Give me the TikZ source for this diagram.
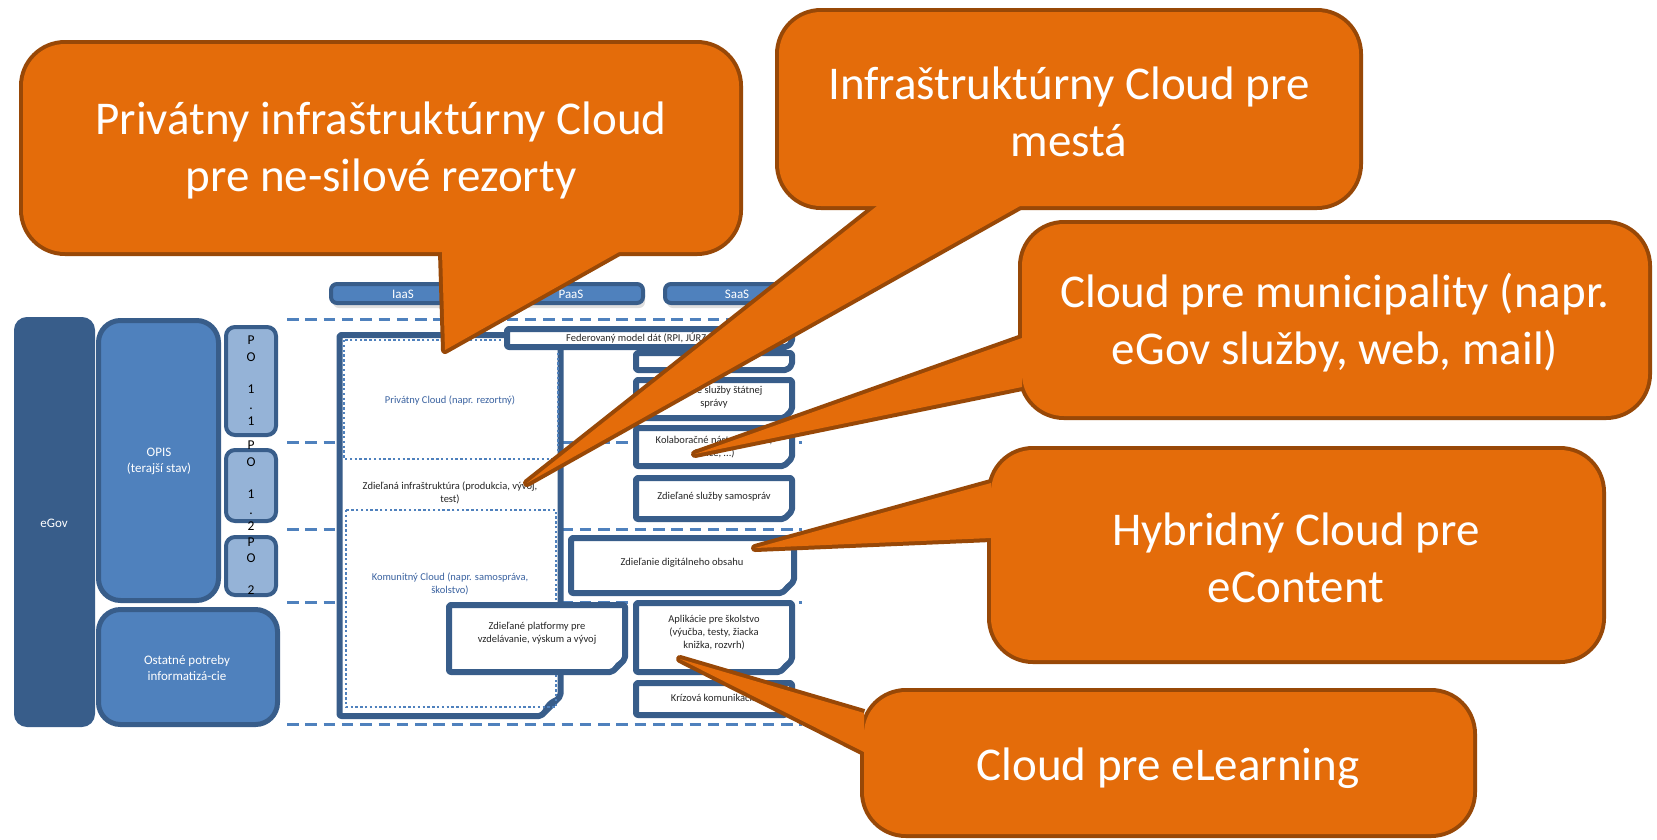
\documentclass[tikz,border=0pt]{standalone}
\usepackage{fontspec}
\setmainfont{Carlito}
\usetikzlibrary{shadows}
\definecolor{dkblue}{HTML}{385D8A}
\definecolor{mdblue}{HTML}{4F81BD}
\definecolor{ltblue}{HTML}{95B3D7}
\definecolor{corange}{HTML}{E46C0A}
\definecolor{cbrown}{HTML}{984807}
\definecolor{txtblue}{HTML}{3A62A0}
\tikzset{
  dline/.style={mdblue, line width=3pt, dash pattern=on 11.5pt off 6.8pt},
  dotbox/.style={mdblue, line width=2.5pt, dash pattern=on 2.4pt off 2.4pt},
  egovbox/.style={fill=dkblue, draw=dkblue, line width=2pt, rounded corners=12pt},
  opisbox/.style={fill=mdblue, draw=dkblue, line width=5pt, rounded corners=22pt},
  pobox/.style={fill=ltblue, draw=dkblue, line width=4pt, rounded corners=9pt},
  tabbox/.style={fill=mdblue, draw=dkblue, line width=4pt, rounded corners=6pt,
    drop shadow={shadow xshift=2pt, shadow yshift=-5pt, opacity=0.25}},
  nbox/.style={fill=white, draw=dkblue, line width=6pt, rounded corners=2pt, line join=round},
  wtxt/.style={text=white, font=\fontsize{13}{16}\selectfont, align=center, inner sep=0pt},
  potxt/.style={text=black, font=\fontsize{13.5}{16.2}\selectfont, align=center, inner sep=0pt},
  btxt/.style={text=black!85, font=\fontsize{10.5}{13}\selectfont, align=center, inner sep=0pt},
  ctxt/.style={text=txtblue, font=\fontsize{10.5}{13}\selectfont, align=center, inner sep=0pt},
  cobord/.style={draw=cbrown, line width=8pt, line join=round},
  cotxt/.style={text=white, font=\fontsize{47}{57}\selectfont, align=center, inner sep=0pt},
}
\newcommand{\notebox}[5]{%
  \draw[nbox] (#1+3,#2+3) -- (#3-3,#2+3) -- (#3-3,#4-3-#5) -- (#3-3-#5,#4-3) -- (#1+3,#4-3) -- cycle;
  \fill[dkblue] (#3-3,#4-3-#5) -- (#3-3-#5,#4-3) .. controls (#3-3-0.9*#5,#4-3-0.6*#5) and (#3-3-0.6*#5,#4-3-0.9*#5) .. (#3-3,#4-3-#5) -- cycle;
}
\begin{document}
\begin{tikzpicture}[x=1pt,y=-1pt]
\useasboundingbox (0,0) rectangle (1657,839);
\fill[white] (0,0) rectangle (1657,839);

% dashed row separators
\foreach \yy in {319,442,529,602,724} \draw[dline] (287,\yy) -- (802,\yy);

% left column
\draw[egovbox] (15,318) rectangle (94,726);
\node[wtxt] (egov) at (54,523) {eGov};
\draw[opisbox] (98.5,320.5) rectangle (218.5,600.5);
\node[wtxt] (opis) at (159,461) {OPIS\\(terajší stav)};
\draw[pobox] (226,327) rectangle (276,435);
\draw[pobox] (226,450) rectangle (276,521);
\draw[pobox] (226,537) rectangle (276,595);
\node[potxt] (po11) at (251,381) {P\\O\\[16.2pt]1\\.\\1};
\node[potxt] (po12) at (251,486) {P\\O\\[16.2pt]1\\.\\2};
\node[potxt] (po2) at (251,566) {P\\O\\[16.2pt]2};
\draw[opisbox] (98.5,609.5) rectangle (277.5,724.5);
\node[wtxt] (ost) at (187,668) {Ostatné potreby\\informatizá-cie};

% header tabs
\draw[tabbox] (331,284) rectangle (475,303);
\node[wtxt] (iaas) at (403,294) {IaaS};
\draw[tabbox] (499,284) rectangle (643,303);
\node[wtxt] (paas) at (571,294) {PaaS};
\draw[tabbox] (665,284) rectangle (809,303);
\node[wtxt] (saas) at (737,294) {SaaS};

% IaaS frame with folded corner
\draw[nbox] (339.5,335) -- (560.5,335) -- (560.5,696) -- (541,716) -- (339.5,716) -- cycle;
\fill[dkblue] (560.5,696) -- (541,716) .. controls (543,705) and (549,698) .. (560.5,696) -- cycle;
\draw[dotbox] (344,340) rectangle (558,459);
\draw[dotbox] (346,510) rectangle (556,707);
\node[ctxt] (priv) at (450,400) {Privátny Cloud (napr. rezortný)};
\node[btxt] (zinf) at (450,493) {Zdieľaná infraštruktúra (produkcia, vývoj,\\test)};
\node[ctxt] (komu) at (450,584) {Komunitný Cloud (napr. samospráva,\\školstvo)};

% service boxes
\notebox{633}{350}{795}{373}{5}
\notebox{504}{326}{795}{350}{5}
\notebox{633}{377}{795}{421}{8}
\notebox{633}{425}{795}{469}{8}
\notebox{633}{475}{795}{522}{8}
\notebox{568}{535}{797}{596}{12}
\notebox{446}{602}{628}{675}{13}
\notebox{633}{600}{795}{675}{12}
\notebox{633}{680}{795}{718}{6}
\node[btxt, anchor=west] (fed) at (566,338) {Federovaný model dát (RPI, JÚRZ};
\node[btxt] (szs) at (714,397) {Zdieľané služby štátnej\\správy};
\node[btxt] (kol) at (714,447) {Kolaboračné nástroje (mail,\\Office, ...)};
\node[btxt] (zss) at (714,497) {Zdieľané služby samospráv};
\node[btxt] (zdo) at (682,563) {Zdieľanie digitálneho obsahu};
\node[btxt] (zpv) at (537,633) {Zdieľané platformy pre\\vzdelávanie, výskum a vývoj};
\node[btxt] (apl) at (714,633) {Aplikácie pre školstvo\\(výučba, testy, žiacka\\knižka, rozvrh)};
\node[btxt] (kriz) at (714,698) {Krízová komunikácia};

% callout 1
\draw[cobord] (442,252) -- (445,350) -- (619,252);
\draw[cobord, rounded corners=42pt] (23,44) rectangle (739,252);
\fill[corange, rounded corners=42pt] (23,44) rectangle (739,252);
\fill[corange] (442,252) -- (445,350) -- (619,252) -- cycle;
\node[cotxt] (c1) at (381,150) {Privátny infraštruktúrny Cloud\\pre ne-silové rezorty};

% callout 2
\draw[cobord] (877,206) -- (527,483) -- (1020,206);
\draw[cobord, rounded corners=42pt] (779,12) rectangle (1359,206);
\fill[corange, rounded corners=42pt] (779,12) rectangle (1359,206);
\fill[corange] (877,206) -- (527,483) -- (1020,206) -- cycle;
\node[cotxt] (c2) at (1069,112) {Infraštruktúrny Cloud pre\\mestá};

% callout 3
\draw[cobord] (1022,338) -- (695,454) -- (1022,387);
\draw[cobord, rounded corners=42pt] (1022,224) rectangle (1648,416);
\fill[corange, rounded corners=42pt] (1022,224) rectangle (1648,416);
\fill[corange] (1022,338) -- (695,454) -- (1022,387) -- cycle;
\node[cotxt] (c3) at (1335,323) {Cloud pre municipality (napr.\\eGov služby, web, mail)};

% callout 4
\draw[cobord] (991,483) -- (755,548) -- (991,538);
\draw[cobord, rounded corners=42pt] (991,450) rectangle (1602,660);
\fill[corange, rounded corners=42pt] (991,450) rectangle (1602,660);
\fill[corange] (991,483) -- (755,548) -- (991,538) -- cycle;
\node[cotxt] (c4) at (1296,558) {Hybridný Cloud pre\\eContent};

% callout 5
\draw[cobord] (864,713) -- (680,659) -- (864,752);
\draw[cobord, rounded corners=42pt] (864,692) rectangle (1473,834);
\fill[corange, rounded corners=42pt] (864,692) rectangle (1473,834);
\fill[corange] (864,713) -- (680,659) -- (864,752) -- cycle;
\node[cotxt] (c5) at (1168,768) {Cloud pre eLearning};
\end{tikzpicture}
\end{document}
